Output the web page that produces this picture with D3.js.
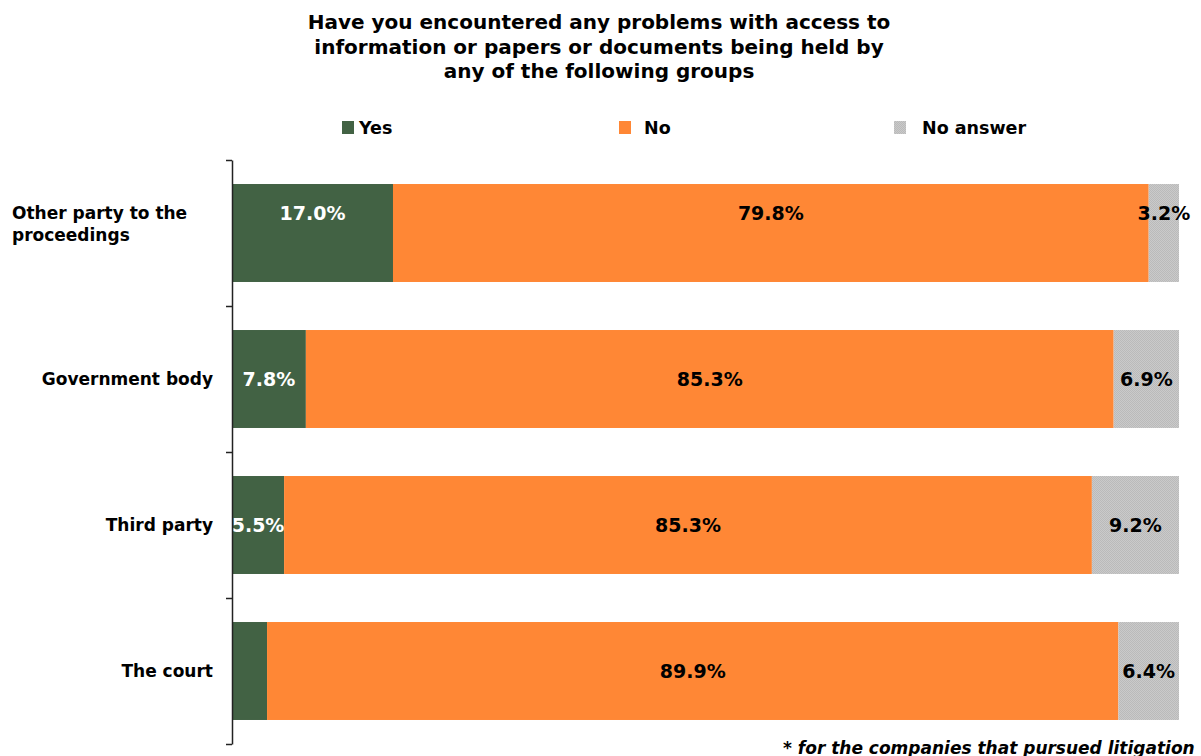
<!DOCTYPE html>
<html>
<head>
<meta charset="utf-8">
<script src="https://cdn.jsdelivr.net/npm/d3@7"></script>
<style>
  html, body { margin: 0; padding: 0; background: #ffffff; }
  svg { display: block; font-family: Verdana, "DejaVu Sans", sans-serif; }
</style>
</head>
<body>
<svg id="chart" width="1201" height="756"></svg>
<script>
// Survey answers, in percent of respondents
const categories = ["Other party to the proceedings", "Government body", "Third party", "The court"];
const categoryLines = [["Other party to the", "proceedings"], ["Government body"], ["Third party"], ["The court"]];
const seriesNames = ["Yes", "No", "No answer"];
const yesValues = [17.0, 7.8, 5.5, 3.7];
const noValues = [79.8, 85.3, 85.3, 89.9];
const noAnswerValues = [3.2, 6.9, 9.2, 6.4];
const titleLines = [
  "Have you encountered any problems with access to",
  "information or papers or documents being held by",
  "any of the following groups"
];
const footnote = "* for the companies that pursued litigation";

const colors = { "Yes": "#426244", "No": "#ff8735", "No answer": "url(#grayDots)" };
const labelColors = { "Yes": "#ffffff", "No": "#000000", "No answer": "#000000" };

const svg = d3.select("#chart");

// fine checkered grey fill used for the "No answer" segments
const defs = svg.append("defs");
const pat = defs.append("pattern")
  .attr("id", "grayDots").attr("patternUnits", "userSpaceOnUse")
  .attr("width", 2).attr("height", 2);
pat.append("rect").attr("width", 2).attr("height", 2).attr("fill", "#cacaca");
pat.append("rect").attr("width", 1).attr("height", 1).attr("fill", "#bababa");
pat.append("rect").attr("x", 1).attr("y", 1).attr("width", 1).attr("height", 1).attr("fill", "#bababa");

const rows = categories.map((c, i) => ({
  category: c,
  "Yes": yesValues[i],
  "No": noValues[i],
  "No answer": noAnswerValues[i]
}));
const stacked = d3.stack().keys(seriesNames)(rows);

const x = d3.scaleLinear().domain([0, 100]).range([232, 1179]);
const y = d3.scaleBand().domain(categories).range([160, 744])
  .paddingInner(0.329).paddingOuter(0.1645);

// title
svg.append("g").selectAll("text").data(titleLines).join("text")
  .attr("x", 599).attr("y", (d, i) => 29 + i * 24.5)
  .attr("text-anchor", "middle")
  .attr("font-weight", "bold").attr("font-size", 20).attr("fill", "#000")
  .text(d => d);

// legend
const legendX = [342, 619, 894];
const legend = svg.append("g").selectAll("g").data(seriesNames).join("g")
  .attr("transform", (d, i) => `translate(${legendX[i]},0)`);
legend.append("rect").attr("x", 0).attr("y", 121).attr("width", 12).attr("height", 13)
  .attr("fill", d => colors[d]);
legend.append("text").attr("x", d => d === "No answer" ? 28 : (d === "No" ? 25 : 17)).attr("y", 134)
  .attr("font-weight", "bold").attr("font-size", 17.5).attr("fill", "#000")
  .text(d => d);

// stacked bars
const layers = svg.append("g").selectAll("g").data(stacked).join("g")
  .attr("fill", d => colors[d.key]);
layers.selectAll("rect").data(d => d).join("rect")
  .attr("x", d => x(d[0]))
  .attr("y", d => y(d.data.category))
  .attr("width", d => x(d[1]) - x(d[0]))
  .attr("height", y.bandwidth());

// value labels; the first row's labels sit in the upper half of the bar
const labelY = d => y(d.data.category) + y.bandwidth() / 2 - (d.data.category === categories[0] ? 20 : 0);
stacked.forEach(layer => {
  const shown = layer.filter(d => d[1] - d[0] >= 4 || (layer.key === "No answer" && d.data.category === categories[0]));
  svg.append("g").selectAll("text").data(shown).join("text")
    .attr("x", d => (x(d[0]) + x(d[1])) / 2)
    .attr("y", labelY)
    .attr("dy", "0.36em")
    .attr("text-anchor", "middle")
    .attr("font-weight", "bold").attr("font-size", 19)
    .attr("fill", labelColors[layer.key])
    .text(d => (d[1] - d[0]).toFixed(1) + "%");
});

// category axis with ticks on band boundaries
const edge = d3.scaleLinear().domain([0, categories.length]).range([160, 744]);
const axis = svg.append("g").attr("transform", "translate(232,0)")
  .call(d3.axisLeft(edge).tickValues(d3.range(categories.length + 1)).tickSize(6).tickSizeOuter(0).tickFormat(""));
axis.selectAll("path, line").attr("stroke", "#222").attr("stroke-width", 1.5);

// category labels
const catG = svg.append("g");
categories.forEach((c, i) => {
  const lines = categoryLines[i];
  const multi = lines.length > 1;
  const cy = y(c) + y.bandwidth() / 2 - (multi ? 9 : 0);
  catG.append("g").selectAll("text").data(lines).join("text")
    .attr("x", multi ? 12 : 213)
    .attr("y", (d, j) => cy + (j - (lines.length - 1) / 2) * 22)
    .attr("dy", "0.36em")
    .attr("text-anchor", multi ? "start" : "end")
    .attr("font-weight", "bold").attr("font-size", 17).attr("fill", "#000")
    .text(d => d);
});

// footnote
svg.append("text").attr("x", 783).attr("y", 754)
  .attr("font-weight", "bold").attr("font-style", "italic").attr("font-size", 17).attr("fill", "#000")
  .text(footnote);
</script>
</body>
</html>
